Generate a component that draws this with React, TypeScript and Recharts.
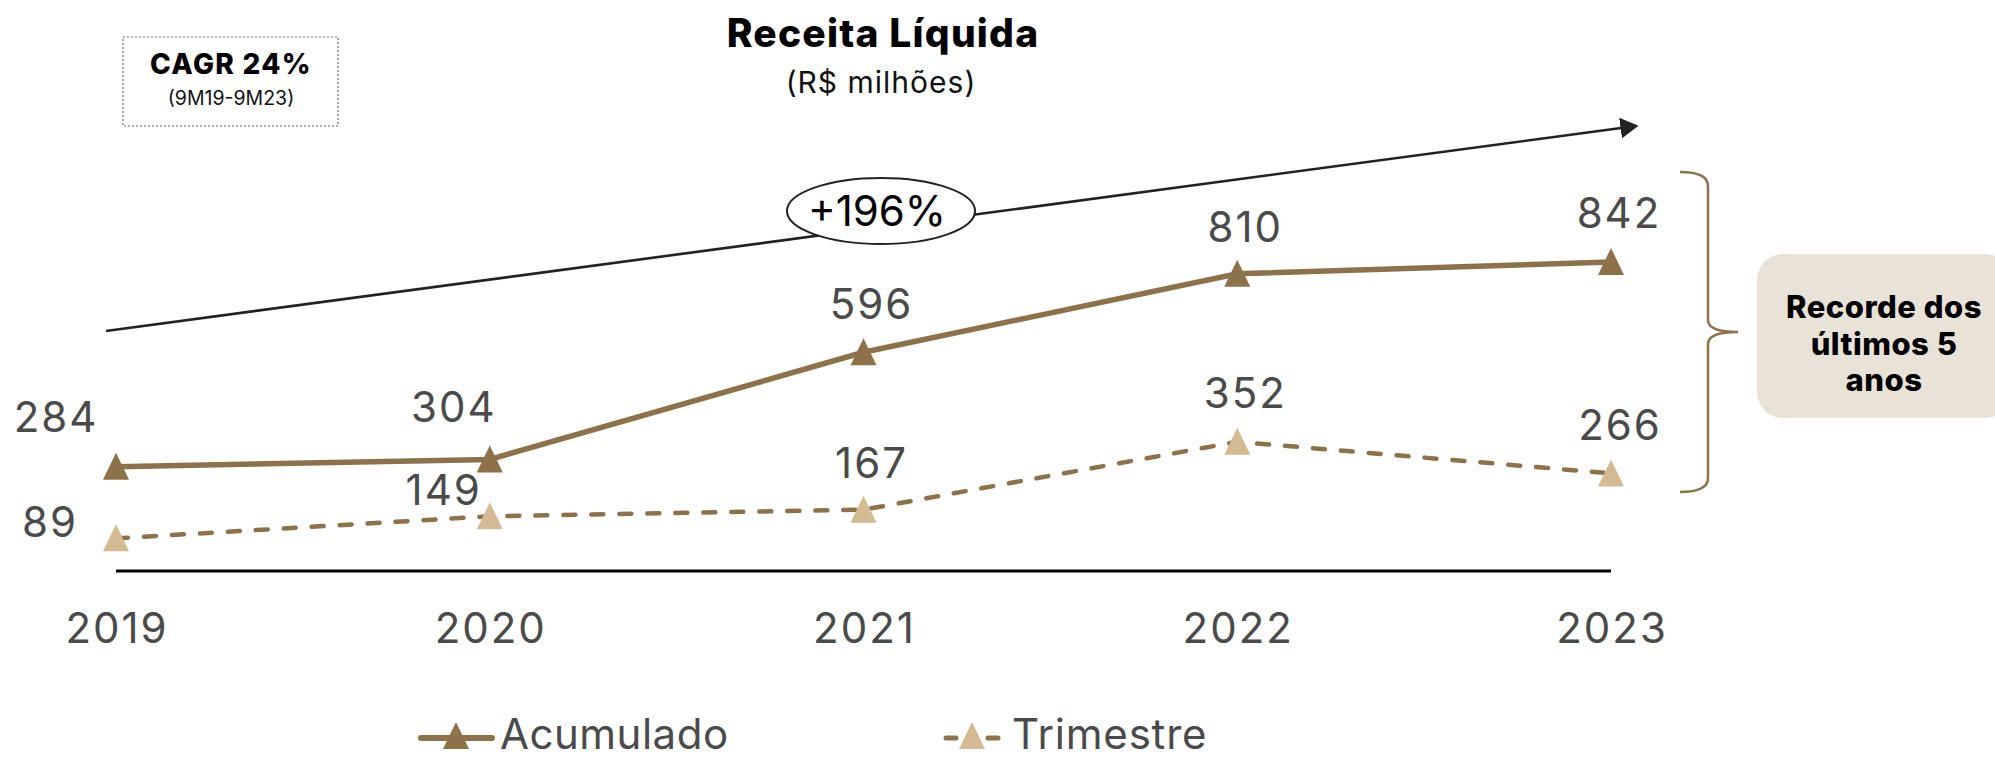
import React from 'react';
import { LineChart, Line, XAxis, YAxis, Legend, LabelList } from 'recharts';

const years = ['2019', '2020', '2021', '2022', '2023'];
const acumulado = [284, 304, 596, 810, 842];
const trimestre = [89, 149, 167, 352, 266];
const seriesNames = ['Acumulado', 'Trimestre'];

const data = years.map((y, i) => ({ year: y, acumulado: acumulado[i], trimestre: trimestre[i] }));

const BROWN = '#8C7149';
const TAN = '#D3BA92';
const LABEL = '#4A4A4A';
const FONT = 'Inter, "Noto Sans", sans-serif';

const W = 1995;
const H = 760;
const LEGEND_H = 60;

// label placement relative to each point (style only)
const acumLabelOffsets = [[-61, -50], [-37, -52], [7, -48], [7, -47], [7, -49]];
const trimLabelOffsets = [[-67, -16], [-47, -26], [7, -47], [7, -49], [8, -48]];

const tri = (cx: number, cy: number, fill: string, key?: any) => (
  <polygon key={key} points={`${cx},${cy - 14} ${cx + 13},${cy + 13} ${cx - 13},${cy + 13}`} fill={fill} />
);

const makeDot = (fill: string) => (props: any) => {
  const { cx, cy, index } = props;
  if (cx == null || cy == null) return <g key={index} />;
  return tri(cx, cy, fill, index);
};

const makeLabel = (offsets: number[][]) => (props: any) => {
  const { x, y, value, index } = props;
  const [dx, dy] = offsets[index] || [0, -48];
  return (
    <text
      key={index}
      x={x + dx + 1}
      y={y + dy + 15}
      textAnchor="middle"
      fontFamily={FONT}
      fontSize={42}
      letterSpacing={2}
      fill={LABEL}
    >
      {value}
    </text>
  );
};

const XTick = (props: any) => {
  const { x, y, payload } = props;
  return (
    <text x={x + 1} y={y + 72} textAnchor="middle" fontFamily={FONT} fontSize={42} letterSpacing={2} fill={LABEL}>
      {payload.value}
    </text>
  );
};

const LegendContent = () => (
  <svg width={W} height={LEGEND_H} style={{ display: 'block', overflow: 'visible' }}>
    <line x1={421} x2={492} y1={38} y2={38} stroke={BROWN} strokeWidth={6} strokeLinecap="round" />
    {tri(456, 36, BROWN)}
    <text x={500} y={49} fontFamily={FONT} fontSize={42} letterSpacing={0.5} fill={LABEL}>{seriesNames[0]}</text>
    <line x1={946} x2={956} y1={38} y2={38} stroke={BROWN} strokeWidth={5} strokeLinecap="round" />
    <line x1={988} x2={998} y1={38} y2={38} stroke={BROWN} strokeWidth={5} strokeLinecap="round" />
    {tri(972, 36, TAN)}
    <text x={1012} y={49} fontFamily={FONT} fontSize={42} letterSpacing={0.8} fill={LABEL}>{seriesNames[1]}</text>
  </svg>
);

export default function App() {
  return (
    <div style={{ position: 'absolute', left: 0, top: 0, width: W, height: H, background: '#fff', overflow: 'hidden' }}>
      <LineChart
        width={W}
        height={H}
        data={data}
        margin={{ top: 204, right: 384, bottom: 0, left: 116 }}
      >
        <XAxis
          dataKey="year"
          axisLine={{ stroke: '#000', strokeWidth: 3 }}
          tickLine={false}
          tickSize={0}
          tickMargin={0}
          height={189 - LEGEND_H}
          tick={<XTick />}
          interval={0}
        />
        <YAxis hide domain={[0, 1000]} type="number" />
        <Legend
          verticalAlign="bottom"
          align="left"
          height={LEGEND_H}
          wrapperStyle={{ left: 0, bottom: 0, width: W, height: LEGEND_H }}
          content={<LegendContent />}
        />
        <Line
          dataKey="trimestre"
          name={seriesNames[1]}
          stroke={BROWN}
          strokeWidth={4.5}
          strokeDasharray="12 16"
          strokeLinecap="round"
          dot={makeDot(TAN)}
          activeDot={false}
          isAnimationActive={false}
        >
          <LabelList dataKey="trimestre" content={makeLabel(trimLabelOffsets)} />
        </Line>
        <Line
          dataKey="acumulado"
          name={seriesNames[0]}
          stroke={BROWN}
          strokeWidth={5.5}
          dot={makeDot(BROWN)}
          activeDot={false}
          isAnimationActive={false}
        >
          <LabelList dataKey="acumulado" content={makeLabel(acumLabelOffsets)} />
        </Line>
      </LineChart>

      <svg
        width={W}
        height={H}
        style={{ position: 'absolute', left: 0, top: 0, pointerEvents: 'none' }}
      >
        {/* Title */}
        <text x={883} y={47} textAnchor="middle" fontFamily={FONT} fontWeight={800} fontSize={39} letterSpacing={1.2} fill="#000">
          Receita Líquida
        </text>
        <text x={881} y={93} textAnchor="middle" fontFamily={FONT} fontSize={30} letterSpacing={1} fill="#111">
          (R$ milhões)
        </text>

        {/* CAGR box */}
        <rect x={123} y={37} width={215} height={89} fill="none" stroke="#666" strokeWidth={1.2} strokeDasharray="2 2" />
        <text x={231} y={74} textAnchor="middle" fontFamily={FONT} fontWeight={800} fontSize={28} letterSpacing={1.3} fill="#000">
          CAGR 24%
        </text>
        <text x={231} y={105} textAnchor="middle" fontFamily={FONT} fontSize={19.5} fill="#111">
          (9M19-9M23)
        </text>

        {/* Growth arrow */}
        <defs>
          <marker id="arrowHead" markerWidth="8" markerHeight="8" refX="6" refY="4" orient="auto" markerUnits="strokeWidth">
            <path d="M0,0 L7,4 L0,8 Z" fill="#222" />
          </marker>
        </defs>
        <line x1={106} y1={331} x2={1636} y2={126} stroke="#222" strokeWidth={2.6} markerEnd="url(#arrowHead)" />
        <ellipse cx={881} cy={211} rx={94} ry={33} fill="#fff" stroke="#222" strokeWidth={2} />
        <text x={877} y={226} textAnchor="middle" fontFamily={FONT} fontSize={42} fill="#000">
          +196%
        </text>

        {/* Brace */}
        <path
          d="M1680,172 Q1708,172 1708,186 L1708,320 Q1708,332 1738,332 Q1708,332 1708,344 L1708,478 Q1708,492 1680,492"
          fill="none"
          stroke={BROWN}
          strokeWidth={2.5}
        />

        {/* Record box */}
        <rect x={1757} y={254} width={254} height={164} rx={26} ry={26} fill="#E9E3D7" />
        <text textAnchor="middle" fontFamily={FONT} fontWeight={800} fontSize={31} letterSpacing={0.5} fill="#000">
          <tspan x={1884} y={318}>Recorde dos</tspan>
          <tspan x={1884} y={355}>últimos 5</tspan>
          <tspan x={1884} y={391}>anos</tspan>
        </text>
      </svg>
    </div>
  );
}
